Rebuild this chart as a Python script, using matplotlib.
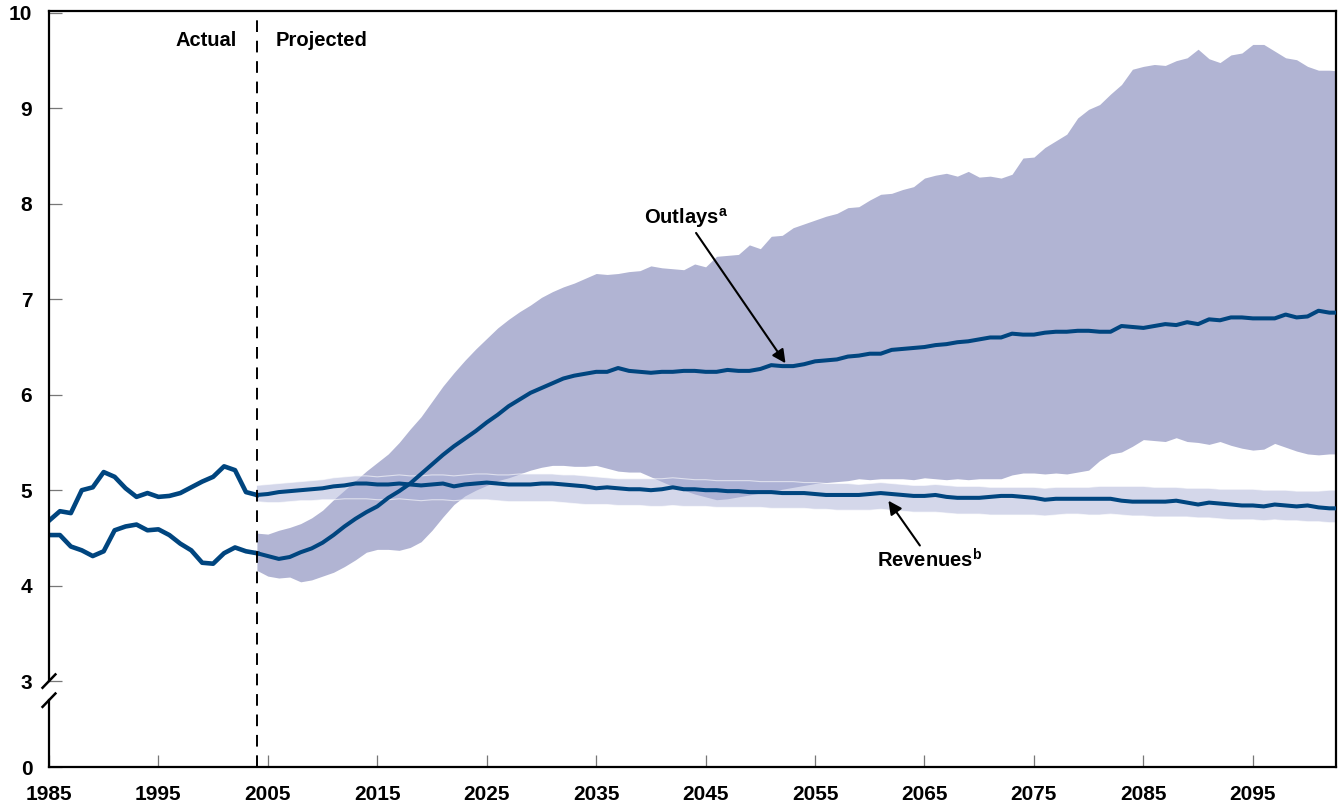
# Social Security outlays and revenues, actual and projected (percent of GDP)

import numpy as np
import matplotlib.pyplot as plt

plt.rcParams['font.family'] = ['Liberation Sans', 'DejaVu Sans']
plt.rcParams['font.weight'] = 'bold'
plt.rcParams['mathtext.fontset'] = 'custom'
plt.rcParams['mathtext.bf'] = 'Liberation Sans:bold'
plt.rcParams['mathtext.rm'] = 'Liberation Sans:bold'

# ---------------- data ----------------
hist_years = np.arange(1985, 2005)
hist_revenues = [4.68, 4.78, 4.76, 5.00, 5.03, 5.19, 5.14, 5.02, 4.93, 4.97,
                 4.93, 4.94, 4.97, 5.03, 5.09, 5.14, 5.25, 5.21, 4.98, 4.95]
hist_outlays = [4.53, 4.53, 4.41, 4.37, 4.31, 4.36, 4.58, 4.62, 4.64, 4.58,
                4.59, 4.53, 4.44, 4.37, 4.24, 4.23, 4.34, 4.40, 4.36, 4.34]

proj_years = np.arange(2004, 2104)
outlays_mid = [4.34, 4.31, 4.28, 4.30, 4.35, 4.39, 4.45, 4.53, 4.62, 4.70,
               4.77, 4.83, 4.92, 4.99, 5.07, 5.17, 5.27, 5.37, 5.46, 5.54,
               5.62, 5.71, 5.79, 5.88, 5.95, 6.02, 6.07, 6.12, 6.17, 6.20,
               6.22, 6.24, 6.24, 6.28, 6.25, 6.24, 6.23, 6.24, 6.24, 6.25,
               6.25, 6.24, 6.24, 6.26, 6.25, 6.25, 6.27, 6.31, 6.30, 6.30,
               6.32, 6.35, 6.36, 6.37, 6.40, 6.41, 6.43, 6.43, 6.47, 6.48,
               6.49, 6.50, 6.52, 6.53, 6.55, 6.56, 6.58, 6.60, 6.60, 6.64,
               6.63, 6.63, 6.65, 6.66, 6.66, 6.67, 6.67, 6.66, 6.66, 6.72,
               6.71, 6.70, 6.72, 6.74, 6.73, 6.76, 6.74, 6.79, 6.78, 6.81,
               6.81, 6.80, 6.80, 6.80, 6.84, 6.81, 6.82, 6.88, 6.86, 6.86]
outlays_hi = [4.55, 4.54, 4.58, 4.61, 4.65, 4.71, 4.79, 4.90, 5.00, 5.10,
              5.20, 5.29, 5.38, 5.50, 5.64, 5.77, 5.93, 6.09, 6.23, 6.36,
              6.48, 6.59, 6.70, 6.79, 6.87, 6.94, 7.02, 7.08, 7.13, 7.17,
              7.22, 7.27, 7.26, 7.27, 7.29, 7.30, 7.35, 7.33, 7.32, 7.31,
              7.37, 7.34, 7.45, 7.46, 7.47, 7.57, 7.53, 7.66, 7.67, 7.75,
              7.79, 7.83, 7.87, 7.90, 7.96, 7.97, 8.04, 8.10, 8.11, 8.15,
              8.18, 8.27, 8.30, 8.32, 8.29, 8.34, 8.28, 8.29, 8.27, 8.31,
              8.48, 8.49, 8.59, 8.66, 8.73, 8.90, 8.99, 9.04, 9.15, 9.25,
              9.41, 9.44, 9.46, 9.45, 9.50, 9.53, 9.62, 9.52, 9.48, 9.56,
              9.58, 9.67, 9.67, 9.60, 9.53, 9.51, 9.44, 9.40, 9.40, 9.39]
outlays_lo = [4.16, 4.10, 4.08, 4.09, 4.04, 4.06, 4.10, 4.14, 4.20, 4.27,
              4.35, 4.38, 4.38, 4.37, 4.40, 4.46, 4.58, 4.72, 4.85, 4.94,
              5.00, 5.05, 5.10, 5.13, 5.17, 5.21, 5.24, 5.26, 5.26, 5.25,
              5.25, 5.26, 5.23, 5.20, 5.19, 5.19, 5.14, 5.09, 5.04, 5.00,
              4.96, 4.93, 4.90, 4.91, 4.93, 4.95, 4.97, 4.99, 5.01, 5.03,
              5.05, 5.07, 5.08, 5.09, 5.10, 5.12, 5.11, 5.12, 5.12, 5.12,
              5.11, 5.13, 5.12, 5.11, 5.12, 5.11, 5.12, 5.12, 5.12, 5.16,
              5.18, 5.18, 5.17, 5.18, 5.17, 5.19, 5.21, 5.31, 5.38, 5.40,
              5.46, 5.53, 5.52, 5.51, 5.55, 5.51, 5.50, 5.48, 5.51, 5.47,
              5.44, 5.42, 5.43, 5.49, 5.45, 5.41, 5.38, 5.37, 5.38, 5.38]

revenues_mid = [4.95, 4.96, 4.98, 4.99, 5.00, 5.01, 5.02, 5.04, 5.05, 5.07,
                5.07, 5.06, 5.06, 5.07, 5.06, 5.05, 5.06, 5.07, 5.04, 5.06,
                5.07, 5.08, 5.07, 5.06, 5.06, 5.06, 5.07, 5.07, 5.06, 5.05,
                5.04, 5.02, 5.03, 5.02, 5.01, 5.01, 5.00, 5.01, 5.03, 5.01,
                5.01, 5.00, 5.00, 4.99, 4.99, 4.98, 4.98, 4.98, 4.97, 4.97,
                4.97, 4.96, 4.95, 4.95, 4.95, 4.95, 4.96, 4.97, 4.96, 4.95,
                4.94, 4.94, 4.95, 4.93, 4.92, 4.92, 4.92, 4.93, 4.94, 4.94,
                4.93, 4.92, 4.90, 4.91, 4.91, 4.91, 4.91, 4.91, 4.91, 4.89,
                4.88, 4.88, 4.88, 4.88, 4.89, 4.87, 4.85, 4.87, 4.86, 4.85,
                4.84, 4.84, 4.83, 4.85, 4.84, 4.83, 4.84, 4.82, 4.81, 4.81]
revenues_hi = [5.05, 5.06, 5.07, 5.08, 5.09, 5.10, 5.11, 5.13, 5.14, 5.15,
               5.15, 5.14, 5.15, 5.16, 5.15, 5.15, 5.16, 5.16, 5.15, 5.16,
               5.17, 5.17, 5.16, 5.16, 5.17, 5.17, 5.17, 5.17, 5.16, 5.16,
               5.15, 5.14, 5.13, 5.12, 5.12, 5.12, 5.12, 5.12, 5.13, 5.12,
               5.11, 5.11, 5.10, 5.10, 5.10, 5.10, 5.09, 5.09, 5.09, 5.09,
               5.08, 5.08, 5.07, 5.07, 5.07, 5.06, 5.07, 5.08, 5.07, 5.06,
               5.05, 5.05, 5.06, 5.05, 5.04, 5.04, 5.04, 5.03, 5.03, 5.03,
               5.03, 5.03, 5.02, 5.03, 5.03, 5.03, 5.03, 5.04, 5.04, 5.04,
               5.04, 5.04, 5.03, 5.03, 5.03, 5.02, 5.02, 5.02, 5.01, 5.01,
               5.01, 5.01, 5.00, 5.00, 5.00, 4.99, 4.99, 4.99, 5.00, 5.00]
revenues_lo = [4.88, 4.87, 4.87, 4.88, 4.89, 4.89, 4.90, 4.90, 4.91, 4.91,
               4.91, 4.90, 4.90, 4.91, 4.90, 4.89, 4.90, 4.90, 4.89, 4.90,
               4.90, 4.90, 4.89, 4.88, 4.88, 4.88, 4.88, 4.88, 4.87, 4.86,
               4.85, 4.85, 4.85, 4.84, 4.84, 4.84, 4.83, 4.83, 4.84, 4.83,
               4.83, 4.83, 4.82, 4.82, 4.82, 4.82, 4.82, 4.81, 4.81, 4.81,
               4.81, 4.80, 4.80, 4.79, 4.79, 4.79, 4.79, 4.80, 4.79, 4.78,
               4.77, 4.77, 4.77, 4.76, 4.75, 4.75, 4.75, 4.74, 4.74, 4.74,
               4.74, 4.74, 4.73, 4.74, 4.75, 4.75, 4.74, 4.74, 4.75, 4.74,
               4.73, 4.73, 4.72, 4.72, 4.72, 4.72, 4.71, 4.71, 4.70, 4.69,
               4.69, 4.69, 4.68, 4.69, 4.68, 4.68, 4.67, 4.67, 4.66, 4.66]

x_ticks = np.arange(1985, 2100, 10)
y_ticks = [3, 4, 5, 6, 7, 8, 9, 10]
y_zero = 2.1          # where "0" sits on the broken axis
split_year = 2004

# ---------------- plot ----------------
line_color = '#00457F'
band_outlays = '#B1B4D3'
band_revenues = '#ABB1D7'

fig = plt.figure(figsize=(13.38, 8.05), dpi=100)
ax = fig.add_axes([0.0366, 0.0472, 0.9619, 0.9391])

ax.fill_between(proj_years, outlays_lo, outlays_hi, color=band_outlays, lw=0, zorder=1)
ax.fill_between(proj_years, revenues_lo, revenues_hi, facecolor=band_revenues,
                alpha=0.5, edgecolor='none', zorder=2)
ax.plot(proj_years, revenues_hi, color='white', lw=0.8, alpha=0.6, zorder=2)
ax.plot(proj_years, revenues_lo, color='white', lw=0.8, alpha=0.6, zorder=2)

ax.plot(hist_years, hist_revenues, color=line_color, lw=3.3, zorder=4,
        solid_joinstyle='round')
ax.plot(hist_years, hist_outlays, color=line_color, lw=3.3, zorder=4,
        solid_joinstyle='round')
ax.plot(proj_years, revenues_mid, color=line_color, lw=2.9, zorder=4)
ax.plot(proj_years, outlays_mid, color=line_color, lw=2.9, zorder=4)

ax.axvline(split_year, color='black', lw=1.4, ls=(0, (6, 4.5)), zorder=5)

ax.set_xlim(1985, 2102.6)
ax.set_ylim(y_zero, 10.02)

ax.set_xticks(x_ticks)
ax.set_xticklabels([str(y) for y in x_ticks])
ax.set_yticks([y_zero] + y_ticks)
ax.set_yticklabels(['0'] + [str(y) for y in y_ticks])
ax.tick_params(axis='both', direction='in', length=9, width=0.9, color='#777777',
               labelsize=15)
ax.tick_params(axis='x', pad=13)
ax.tick_params(axis='y', pad=12)

for side in ['top', 'right', 'bottom']:
    ax.spines[side].set_linewidth(1.6)
ax.spines['left'].set_visible(False)

# broken left spine
tr = ax.get_yaxis_transform()
ax.plot([0, 0], [3.0, 10.02], color='black', lw=1.6, transform=tr, clip_on=False, zorder=6)
ax.plot([0, 0], [y_zero, 2.80], color='black', lw=1.6, transform=tr, clip_on=False, zorder=6)
dx, dy = 0.005, 0.07
for yc in [3.0, 2.80]:
    ax.plot([-dx, dx], [yc - dy, yc + dy], color='black', lw=1.8,
            transform=tr, clip_on=False, zorder=6)

ax.text(2002.2, 9.71, 'Actual', ha='right', va='center', fontsize=14.5)
ax.text(2005.7, 9.71, 'Projected', ha='left', va='center', fontsize=14.5)

arrow = dict(arrowstyle='-|>', color='black', lw=1.5, mutation_scale=20,
             shrinkA=0, shrinkB=0)
ax.annotate(r'Outlays$^{\mathbf{a}}$', xy=(2052.3, 6.33), xytext=(2043.2, 7.85),
            ha='center', va='center', fontsize=14.5, arrowprops=arrow, zorder=7)
ax.annotate(r'Revenues$^{\mathbf{b}}$', xy=(2061.7, 4.89), xytext=(2065.5, 4.27),
            ha='center', va='center', fontsize=14.5, arrowprops=arrow, zorder=7)

fig.savefig('out.png', dpi=100)
